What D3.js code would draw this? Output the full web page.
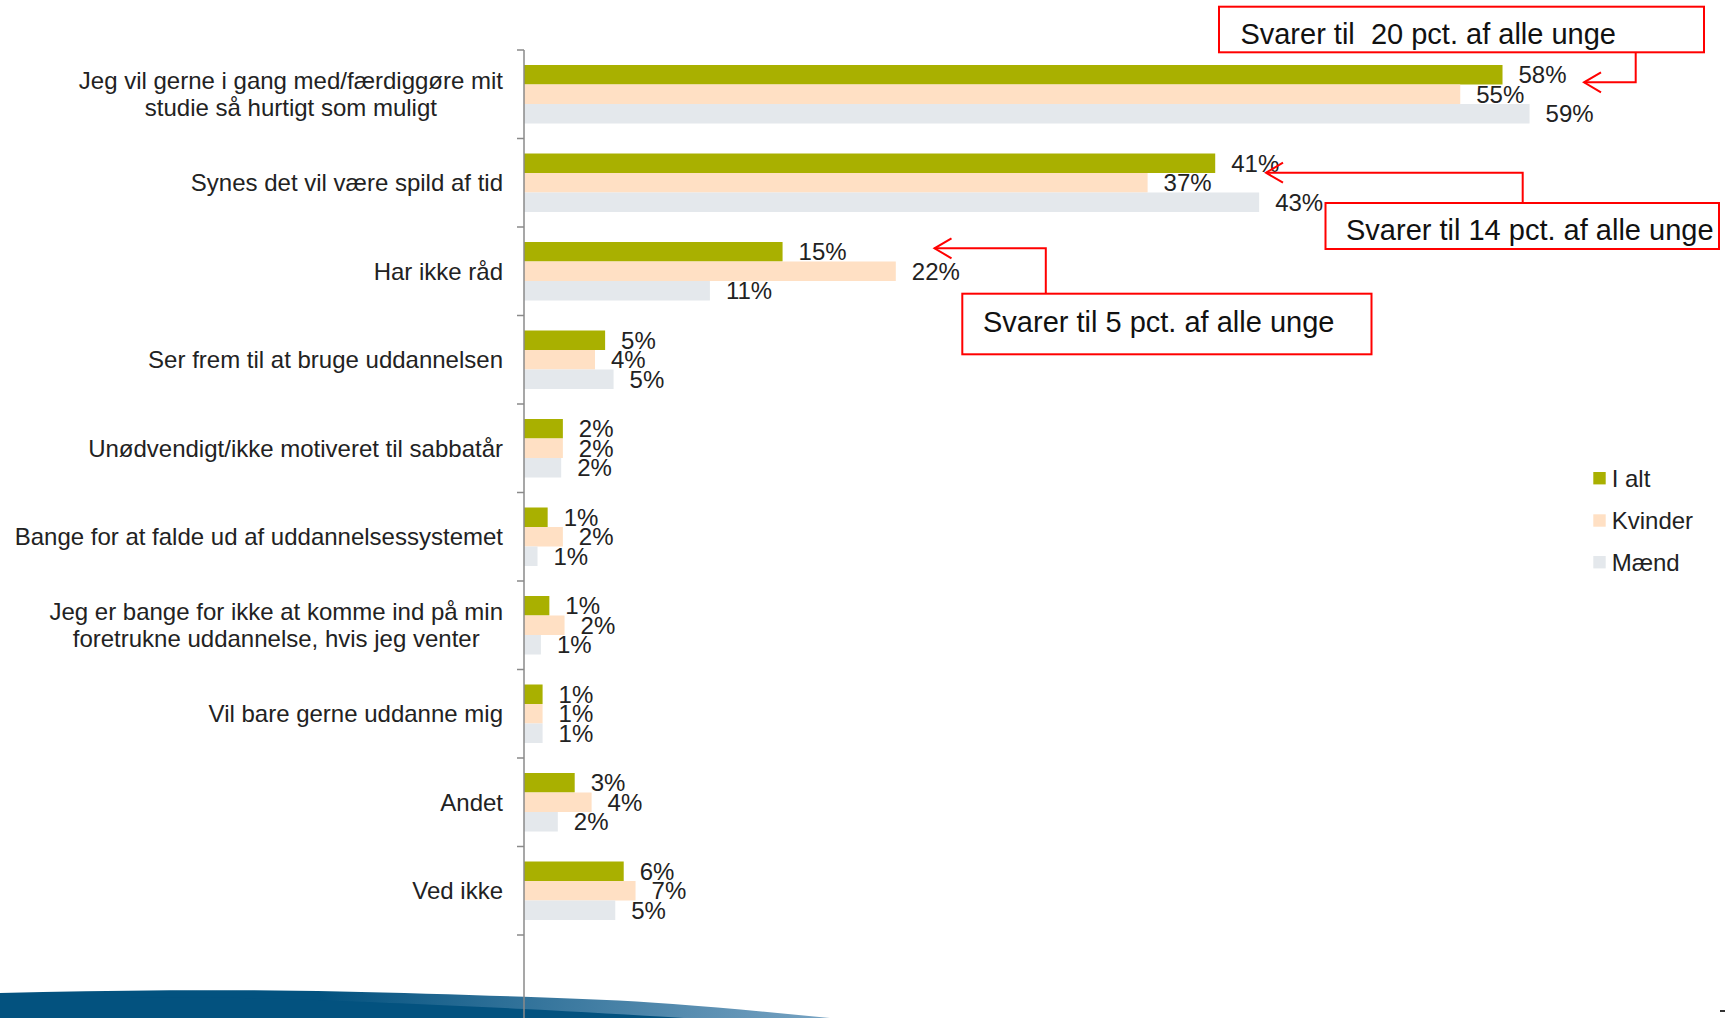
<!DOCTYPE html>
<html><head><meta charset="utf-8">
<script src="https://cdn.jsdelivr.net/npm/d3@7"></script>
<style>
html,body{margin:0;padding:0;background:#fff;}
svg{display:block;font-family:"Liberation Sans",Arial,sans-serif;}
</style>
</head><body>
<svg id="chart" width="1726" height="1018"></svg>
<script>
// ---------- data ----------
const categories = [
  "Jeg vil gerne i gang med/færdiggøre mit\nstudie så hurtigt som muligt",
  "Synes det vil være spild af tid",
  "Har ikke råd",
  "Ser frem til at bruge uddannelsen",
  "Unødvendigt/ikke motiveret til sabbatår",
  "Bange for at falde ud af uddannelsessystemet",
  "Jeg er bange for ikke at komme ind på min\nforetrukne uddannelse, hvis jeg venter",
  "Vil bare gerne uddanne mig",
  "Andet",
  "Ved ikke"
];
const seriesNames = ["I alt", "Kvinder", "Mænd"];
const iAlt    = [57.9, 40.9, 15.3, 4.8, 2.3, 1.4, 1.5, 1.1, 3.0, 5.9];
const kvinder = [55.4, 36.9, 22.0, 4.2, 2.3, 2.3, 2.4, 1.1, 4.0, 6.6];
const maend   = [59.5, 43.5, 11.0, 5.3, 2.2, 0.8, 1.0, 1.1, 2.0, 5.4];
const iAltLabels    = ["58%", "41%", "15%", "5%", "2%", "1%", "1%", "1%", "3%", "6%"];
const kvinderLabels = ["55%", "37%", "22%", "4%", "2%", "2%", "2%", "1%", "4%", "7%"];
const maendLabels   = ["59%", "43%", "11%", "5%", "2%", "1%", "1%", "1%", "2%", "5%"];
const annotationTexts = [
  "Svarer til  20 pct. af alle unge",
  "Svarer til 14 pct. af alle unge",
  "Svarer til 5 pct. af alle unge"
];

// ---------- styles ----------
const colors = ["#a9b000", "#ffe0c4", "#e4e8ec"];
const textColor = "#222";
const axisColor = "#8a8a8a";
const red = "#ff0000";

const svg = d3.select("#chart");

// ---------- bottom swoosh ----------
const defs = svg.append("defs");
const grad = defs.append("linearGradient").attr("id", "sw")
  .attr("gradientUnits", "userSpaceOnUse")
  .attr("x1", 0).attr("y1", 0).attr("x2", 840).attr("y2", 0);
grad.append("stop").attr("offset", "0.38").attr("stop-color", "#03527f");
grad.append("stop").attr("offset", "1").attr("stop-color", "#7aa5c4");

const curve = d3.line().curve(d3.curveNatural);
const upperPts = [[0, 993], [170, 990.3], [340, 991.5], [524, 996.8], [673, 1004], [835, 1018.5]];
svg.append("path")
  .attr("d", curve(upperPts) + "L0,1018Z")
  .attr("fill", "url(#sw)");
const lowerPts = [[0, 997], [200, 997.5], [340, 1001], [524, 1009], [700, 1019]];
svg.append("path")
  .attr("d", curve(lowerPts) + "L0,1018Z")
  .attr("fill", "#03527f");

// ---------- scales ----------
const x = d3.scaleLinear().domain([0, 70]).range([524, 524 + 70 * 16.9]);
const y = d3.scaleBand().domain(d3.range(categories.length)).range([50, 935]).padding(0);
const ySub = d3.scaleBand().domain(d3.range(seriesNames.length))
  .range([15, y.bandwidth() - 15]).padding(0);

const series = [iAlt, kvinder, maend];
const seriesLabels = [iAltLabels, kvinderLabels, maendLabels];

// ---------- bars ----------
series.forEach((vals, s) => {
  svg.append("g").selectAll("rect")
    .data(vals)
    .join("rect")
    .attr("x", x(0))
    .attr("y", (d, i) => y(i) + ySub(s))
    .attr("width", d => x(d) - x(0))
    .attr("height", ySub.bandwidth())
    .attr("fill", colors[s]);
});

// ---------- data labels ----------
series.forEach((vals, s) => {
  svg.append("g").selectAll("text")
    .data(vals)
    .join("text")
    .attr("x", d => x(d) + 16)
    .attr("y", (d, i) => y(i) + ySub(s) + ySub.bandwidth() / 2 + 8.6)
    .attr("font-size", 24)
    .attr("fill", textColor)
    .text((d, i) => seriesLabels[s][i]);
});

// ---------- axis ----------
const ax = svg.append("g");
ax.append("line")
  .attr("x1", x(0)).attr("x2", x(0))
  .attr("y1", y.range()[0]).attr("y2", 1018)
  .attr("stroke", axisColor).attr("stroke-width", 1.5);
const tickYs = d3.range(categories.length + 1).map(i => y.range()[0] + i * y.step());
ax.selectAll("line.tick").data(tickYs).join("line")
  .attr("class", "tick")
  .attr("x1", x(0) - 7).attr("x2", x(0))
  .attr("y1", d => d).attr("y2", d => d)
  .attr("stroke", axisColor).attr("stroke-width", 1.5);

// ---------- category labels ----------
const labelRight = 503;
const lineH = 27.5;
categories.forEach((c, i) => {
  const lines = c.split("\n");
  const t = svg.append("text")
    .attr("font-size", 24)
    .attr("fill", textColor)
    .attr("text-anchor", "middle");
  const cy = y(i) + y.bandwidth() / 2;
  const tsp = lines.map((ln, k) => t.append("tspan")
    .attr("y", cy + (k - (lines.length - 1) / 2) * lineH + 8.4)
    .text(ln));
  const maxW = d3.max(tsp, s => s.node().getComputedTextLength());
  tsp.forEach(s => s.attr("x", labelRight - maxW / 2));
});

// ---------- legend ----------
const legendY = [472, 514.3, 556];
const lg = svg.append("g");
seriesNames.forEach((n, s) => {
  lg.append("rect").attr("x", 1593.3).attr("y", legendY[s])
    .attr("width", 12.4).attr("height", 12.4).attr("fill", colors[s]);
  lg.append("text").attr("x", 1611.7).attr("y", legendY[s] + 6.2 + 8.6)
    .attr("font-size", 24).attr("fill", textColor).text(n);
});

// ---------- annotations ----------
const boxes = [
  {x0: 1219, y0: 6.7, x1: 1704, y1: 52.3, tx: 1240.4, ty: 44.3},
  {x0: 1325.5, y0: 203, x1: 1719, y1: 249, tx: 1346, ty: 240},
  {x0: 962.3, y0: 293.7, x1: 1371.5, y1: 354.3, tx: 983, ty: 331.7}
];
const arrows = [
  [[1635.7, 52.3], [1635.7, 82.3], [1584, 82.3]],
  [[1522.7, 203], [1522.7, 172.7], [1266, 172.7]],
  [[1045.8, 293.7], [1045.8, 248.3], [934.5, 248.3]]
];
const an = svg.append("g");
arrows.forEach(p => {
  an.append("path").attr("d", d3.line()(p))
    .attr("fill", "none").attr("stroke", red).attr("stroke-width", 2);
  const tip = p[2];
  an.append("path")
    .attr("d", d3.line()([[tip[0] + 17, tip[1] - 10], tip, [tip[0] + 17, tip[1] + 10]]))
    .attr("fill", "none").attr("stroke", red).attr("stroke-width", 2);
});
boxes.forEach((b, i) => {
  an.append("rect").attr("x", b.x0).attr("y", b.y0)
    .attr("width", b.x1 - b.x0).attr("height", b.y1 - b.y0)
    .attr("fill", "#fff").attr("stroke", red).attr("stroke-width", 2);
  an.append("text").attr("x", b.tx).attr("y", b.ty)
    .attr("font-size", 29).attr("fill", "#111")
    .attr("xml:space", "preserve").style("white-space", "pre")
    .text(annotationTexts[i]);
});

// small page mark bottom right
svg.append("rect").attr("x", 1720).attr("y", 1010).attr("width", 5).attr("height", 2).attr("fill", "#333");
</script>
</body></html>
